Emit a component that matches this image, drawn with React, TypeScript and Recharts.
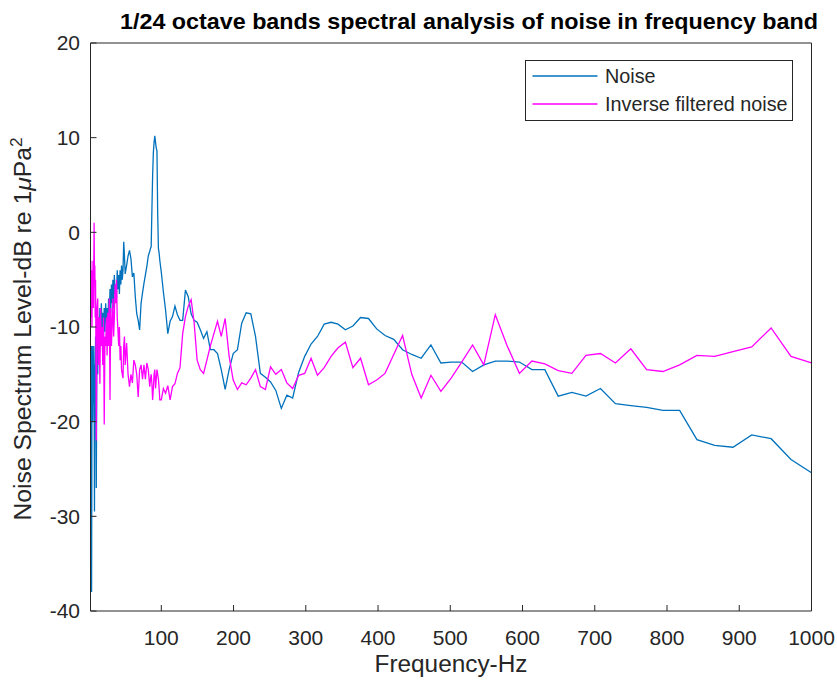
import React from 'react';
import { LineChart, Line, XAxis, YAxis, Legend, Customized } from 'recharts';

const freqHz = [
  2, 2.5, 3, 3.5, 4, 4.5, 5, 5.5, 6, 6.5, 7, 7.5, 8, 8.5, 9, 9.5, 10,
  11, 12, 13, 14, 15, 16, 17, 18, 19, 20, 21, 22, 23, 24, 25, 26, 27, 28, 29, 30,
  31, 32, 33, 34, 35, 36, 37, 38, 39, 40, 41, 42, 43, 44, 45, 46, 47, 48, 49, 50,
  52, 54, 56, 58, 60, 62, 64, 66, 68, 70, 72, 74, 76, 78, 80, 82, 84,
  85, 86, 87, 88, 89, 90, 91, 92, 93, 94, 95, 96, 97, 98,
  100, 102.9, 105.9, 109, 112.2, 115.5, 118.9, 122.3, 125.9, 129.6, 133.4, 137.3, 141.3, 145.4, 149.6,
  154, 158.5, 163.1, 167.9, 172.8, 177.8, 183, 188.4, 193.9, 199.5, 205.4, 211.3, 217.5, 223.9, 230.4,
  237.1, 244.1, 251.2, 258.5, 266.1, 273.8, 281.8, 290.1, 298.5, 307.3, 316.2, 325.5, 335, 344.7, 354.8,
  365.2, 375.8, 386.8, 398.1, 409.7, 421.7, 434, 446.7, 459.7, 473.2, 487, 501.2, 515.8, 530.9, 546.4,
  562.3, 578.8, 595.7, 613, 630.9, 649.4, 668.3, 687.8, 707.9, 728.6, 749.9, 771.8, 794.3, 817.5, 841.4,
  866, 891.3, 917.3, 944.1, 971.6, 1000,
];

const noiseDb = [
  -14, -20, -12, -38, -18, -12, -20, -14, -18, -12, -16, -29.5, -14, -18, -11, -16, -27,
  -10, -15, -9, -13, -8, -11, -7.5, -10, -8.5, -11, -8, -10.5, -7.5, -9.5, -8, -11, -7, -9, -6, -8.5,
  -5.5, -7.5, -5, -8, -4.5, -6.5, -5.5, -7, -4, -6, -4.5, -6.5, -4, -5.5, -3.5, -5, -4, -1, -2.5, -4.4,
  -3.5, -2.5, -1.9, -2.8, -4.7, -4.3, -6.8, -8.6, -9.3, -10.3, -7.5, -6.4, -5.4, -4.5, -3.6, -2.5, -2.0,
  -1.7, -1.5, 2.4, 6, 8.4, 9.5, 10.2, 9.5, 8.9, 8.6, 2, -1.7, -2.2, -3,
  -4.2, -6.3, -8.2, -10.7, -9.4, -8.9, -7.8, -8.7, -9.3, -9.3, -6.1, -6.8, -8.6, -9.3, -9.5,
  -10.3, -11.2, -10.5, -12.4, -12.4, -12.8, -14.5, -16.6, -14.5, -12.8, -12.4, -9.6, -8.5, -8.6, -11.0,
  -14.9, -15.3, -15.8, -16.7, -18.6, -17.2, -17.5, -14.8, -13.1, -11.8, -11.0, -9.7, -9.5, -9.7, -10.3,
  -9.9, -9.0, -9.1, -10.2, -10.9, -11.3, -12.4, -12.9, -13.3, -11.9, -13.8, -13.7, -13.7, -14.7, -14.0,
  -13.6, -13.6, -13.7, -14.5, -14.5, -17.3, -16.9, -17.3, -16.5, -18.1, -18.3, -18.5, -18.8, -18.8, -21.9,
  -22.5, -22.7, -21.4, -21.8, -24.0, -25.4,
];

const inverseDb = [
  -6, -3, -9, -4, -10, -5, -7, -3, -8, -4, 1, -5, -3.5, -9, -5, -12, -22,
  -8, -7, -14, -9, -16, -8, -12, -10, -14, -9, -20.3, -11, -12, -9, -13, -8.5, -12, -7, -17.7, -8,
  -12, -9.5, -7, -11, -9, -5.5, -7.5, -5, -9, -10.3, -12, -10, -13.5, -12, -14.5, -15, -15.4, -12, -11, -14,
  -11.7, -15, -16.3, -15, -15.9, -13.5, -14, -15, -17.4, -14.5, -14, -15.5, -14, -15.5, -13.8, -14.5, -16.3,
  -15.5, -15, -16, -17.7, -16.5, -15, -14.5, -16.5, -15.5, -14.5, -15, -15.5, -16.5, -17.7,
  -17.7, -16.5, -17.0, -16.2, -17.7, -16.3, -16.0, -14.9, -14.3, -10.7, -8.9, -7.8, -7.1, -9.5, -13.5,
  -14.5, -14.9, -13.5, -12.0, -10.7, -9.4, -11.0, -9.1, -13.1, -15.6, -16.6, -15.9, -16.1, -15.4, -14.5,
  -16.3, -16.6, -14.2, -15.0, -14.5, -15.9, -16.5, -15.1, -14.9, -13.3, -15.1, -14.3, -13.1, -12.2, -11.6,
  -14.3, -13.3, -16.1, -15.6, -14.9, -12.9, -10.9, -15.0, -17.5, -15.1, -16.8, -15.4, -13.7, -11.9, -14.0,
  -8.7, -12.0, -14.9, -13.6, -13.9, -14.6, -14.9, -13.0, -12.8, -13.8, -12.3, -14.5, -14.7, -14.0, -13.0,
  -13.1, -12.6, -12.1, -10.1, -13.1, -13.8,
];

const xTicks = [100, 200, 300, 400, 500, 600, 700, 800, 900, 1000];
const yTicks = [-40, -30, -20, -10, 0, 10, 20];

const seriesOrder = ['Noise', 'Inverse filtered noise'];
const seriesColors = { noise: '#0072BD', inverse: '#FF00FF' };

const data = freqHz.map((f, i) => ({ f, noise: noiseDb[i], inverse: inverseDb[i] }));

const FONT = '"Liberation Sans", Arial, Helvetica, sans-serif';
const AXIS = '#262626';
const TEXT = '#262626';

const Title = () => (
  <text
    x={120}
    y={29}
    fontFamily={FONT}
    fontWeight="bold"
    fontSize={22}
    fill="#000"
    textLength={698}
    lengthAdjust="spacingAndGlyphs"
  >
    1/24 octave bands spectral analysis of noise in frequency band
  </text>
);

const YLabel = () => (
  <text
    x={31}
    y={329}
    transform="rotate(-90, 31, 329)"
    textAnchor="middle"
    fontFamily={FONT}
    fontSize={23}
    fill={TEXT}
    textLength={383}
    lengthAdjust="spacingAndGlyphs"
  >
    Noise Spectrum Level-dB re 1<tspan fontStyle="italic">μ</tspan>Pa
    <tspan dy={-9} fontSize={16}>2</tspan>
  </text>
);

const XLabel = () => (
  <text
    x={451}
    y={672}
    textAnchor="middle"
    fontFamily={FONT}
    fontSize={23.5}
    fill={TEXT}
    textLength={153}
    lengthAdjust="spacingAndGlyphs"
  >
    Frequency-Hz
  </text>
);

const renderLegend = (props: any) => {
  const payload = [...(props.payload || [])].sort(
    (a: any, b: any) => seriesOrder.indexOf(a.value) - seriesOrder.indexOf(b.value)
  );
  return (
    <div
      style={{
        position: 'relative',
        width: 268,
        height: 61,
        border: `1px solid ${AXIS}`,
        background: '#fff',
        boxSizing: 'border-box',
        fontFamily: FONT,
        fontSize: 19.8,
        color: TEXT,
      }}
    >
      {payload.map((p: any, i: number) => (
        <div
          key={i}
          style={{ position: 'absolute', left: 0, top: 15 + i * 28.3 - 13, height: 26, display: 'flex', alignItems: 'center', whiteSpace: 'nowrap' }}
        >
          <svg width={79} height={26} style={{ display: 'block' }}>
            <line x1={6.5} x2={71.5} y1={13} y2={13} stroke={p.color} strokeWidth={1.3} />
          </svg>
          <span style={{ lineHeight: '26px' }}>{p.value}</span>
        </div>
      ))}
    </div>
  );
};

export default function App() {
  return (
    <div style={{ position: 'absolute', left: 0, top: 0, width: 837, height: 683, background: '#fff' }}>
      <LineChart
        width={837}
        height={683}
        data={data}
        margin={{ top: 42, right: 24.5, bottom: 0, left: 0 }}
      >
        <XAxis
          dataKey="f"
          type="number"
          domain={[2, 1000]}
          allowDataOverflow
          ticks={xTicks}
          interval={0}
          height={72}
          tickSize={-6}
          tickMargin={25}
          stroke={AXIS}
          tick={{ fill: TEXT, fontSize: 21, fontFamily: FONT }}
        />
        <XAxis
          xAxisId="top"
          orientation="top"
          dataKey="f"
          type="number"
          domain={[2, 1000]}
          allowDataOverflow
          ticks={xTicks}
          interval={0}
          height={1}
          tickSize={-6}
          tick={false}
          stroke={AXIS}
        />
        <YAxis
          type="number"
          domain={[-40, 20]}
          allowDataOverflow
          ticks={yTicks}
          interval={0}
          width={90.5}
          tickSize={-6}
          tickMargin={16.5}
          stroke={AXIS}
          tick={{ fill: TEXT, fontSize: 21, fontFamily: FONT }}
        />
        <YAxis
          yAxisId="right"
          orientation="right"
          type="number"
          domain={[-40, 20]}
          allowDataOverflow
          ticks={yTicks}
          interval={0}
          width={1}
          tickSize={-6}
          tick={false}
          stroke={AXIS}
        />
        <Line
          dataKey="noise"
          name="Noise"
          stroke={seriesColors.noise}
          strokeWidth={1.3}
          dot={false}
          activeDot={false}
          isAnimationActive={false}
          type="linear"
        />
        <Line
          dataKey="inverse"
          name="Inverse filtered noise"
          stroke={seriesColors.inverse}
          strokeWidth={1.3}
          dot={false}
          activeDot={false}
          isAnimationActive={false}
          type="linear"
        />
        <Legend
          layout="vertical"
          align="center"
          verticalAlign="middle"
          content={renderLegend}
          wrapperStyle={{ position: 'absolute', left: 525, top: 60, width: 268, height: 61 }}
        />
        <Customized component={Title} />
        <Customized component={YLabel} />
        <Customized component={XLabel} />
      </LineChart>
    </div>
  );
}
